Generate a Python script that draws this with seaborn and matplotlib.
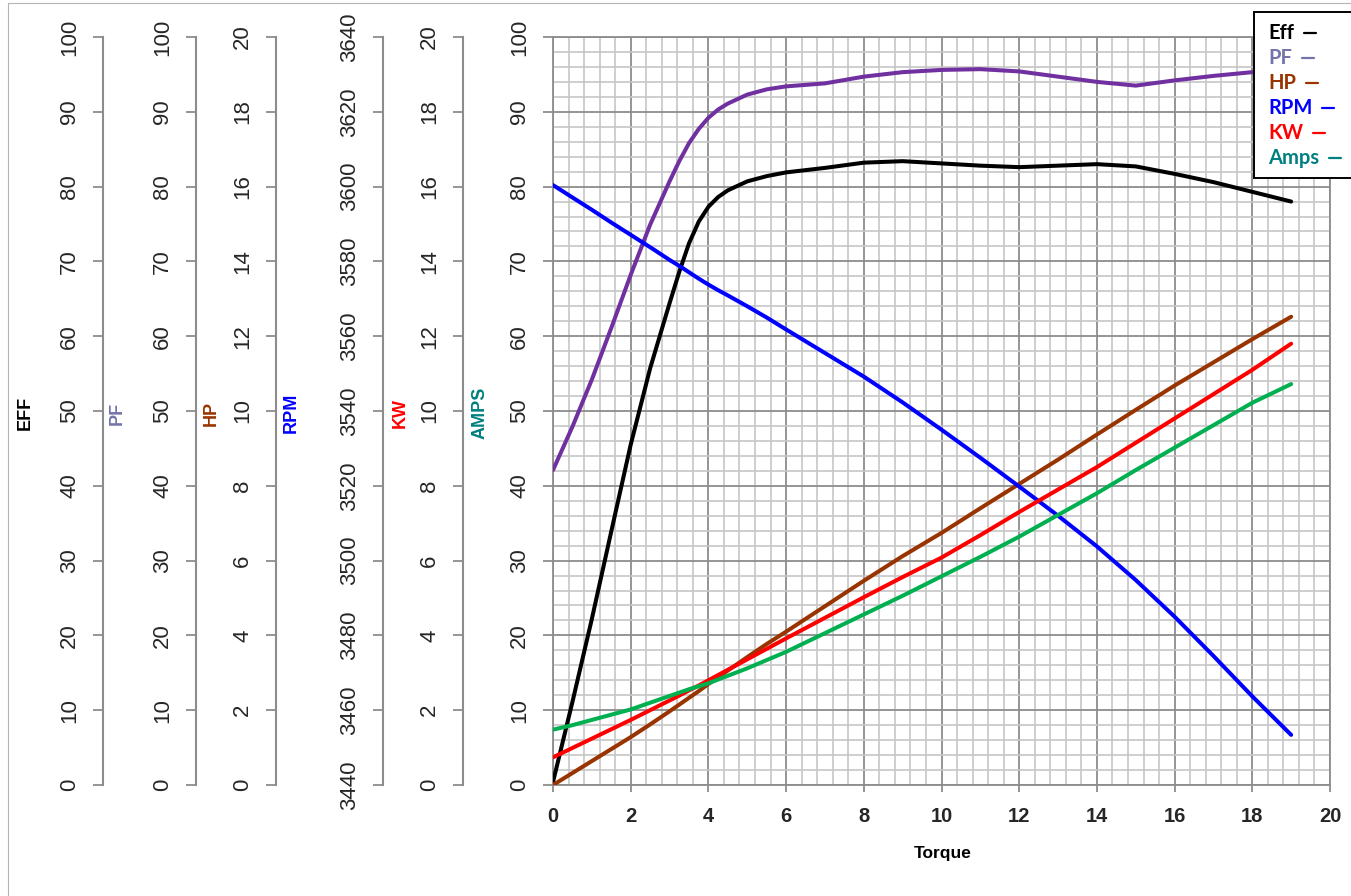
import matplotlib
matplotlib.use("Agg")
import matplotlib.pyplot as plt
import seaborn as sns
from matplotlib.lines import Line2D
from matplotlib.patches import Rectangle
from matplotlib.ticker import MultipleLocator

# ---------------- data ----------------
torque = [0, 0.5, 1, 1.5, 2, 2.5, 3, 3.25, 3.5, 3.75, 4, 4.25, 4.5, 5, 5.5, 6,
          7, 8, 9, 10, 11, 12, 13, 14, 15, 16, 17, 18, 19]
eff = [0.4, 11.1, 22.2, 33.9, 45.5, 55.7, 64.4, 68.6, 72.4, 75.3, 77.3, 78.6,
       79.5, 80.7, 81.4, 81.9, 82.5, 83.2, 83.4, 83.1, 82.8, 82.6, 82.8, 83.0,
       82.7, 81.7, 80.6, 79.3, 78.0]
pf = [42.1, 47.9, 54.2, 61.1, 68.2, 74.9, 80.7, 83.4, 85.8, 87.7, 89.2, 90.3,
      91.1, 92.3, 93.0, 93.4, 93.8, 94.7, 95.3, 95.6, 95.7, 95.4, 94.7, 94.0,
      93.5, 94.2, 94.8, 95.3, 95.9]
hp = [0.0, 0.32, 0.64, 0.96, 1.28, 1.62, 1.97, 2.15, 2.33, 2.51, 2.70, 2.88,
      3.06, 3.42, 3.77, 4.10, 4.78, 5.46, 6.12, 6.74, 7.40, 8.05, 8.70, 9.37,
      10.03, 10.68, 11.30, 11.92, 12.52]
rpm = [3600.4, 3597.1, 3593.8, 3590.4, 3587.1, 3583.8, 3580.4, 3578.8, 3577.1,
       3575.4, 3573.8, 3572.3, 3570.9, 3568.0, 3565.0, 3561.8, 3555.5, 3549.2,
       3542.3, 3535.0, 3527.5, 3519.8, 3512.0, 3503.8, 3494.8, 3485.0, 3474.5,
       3463.7, 3453.4]
kw = [0.74, 0.99, 1.24, 1.49, 1.74, 2.00, 2.26, 2.39, 2.53, 2.66, 2.80, 2.94,
      3.08, 3.36, 3.64, 3.92, 4.47, 5.02, 5.56, 6.08, 6.68, 7.30, 7.90, 8.50,
      9.15, 9.80, 10.45, 11.10, 11.80]
amps = [7.4, 8.0, 8.7, 9.4, 10.1, 11.0, 11.9, 12.35, 12.8, 13.2, 13.6, 14.1,
        14.6, 15.6, 16.7, 17.8, 20.3, 22.8, 25.3, 27.9, 30.5, 33.2, 36.1, 39.0,
        42.1, 45.1, 48.1, 51.1, 53.6]

x_ticks = [0, 2, 4, 6, 8, 10, 12, 14, 16, 18, 20]
pct_ticks = [0, 10, 20, 30, 40, 50, 60, 70, 80, 90, 100]
hp_ticks = [0, 2, 4, 6, 8, 10, 12, 14, 16, 18, 20]
rpm_ticks = [3440, 3460, 3480, 3500, 3520, 3540, 3560, 3580, 3600, 3620, 3640]

legend_labels = ["Eff", "PF", "HP", "RPM", "KW", "Amps"]
axis_titles = ["EFF", "PF", "HP", "RPM", "KW", "AMPS"]

# ---------------- style ----------------
sns.set_style("white")
plt.rcParams["font.family"] = ["Liberation Sans", "DejaVu Sans"]

W, H = 1351, 896
L, R, B, T = 553, 1330, 785, 37
fig = plt.figure(figsize=(W / 100, H / 100), dpi=100)
ax = fig.add_axes([L / W, 1 - B / H, (R - L) / W, (B - T) / H])

GRID_MAJ = "#8c8c8c"
GRID_MIN = "#c6c6c6"
TICKC = "#8c8c8c"
LW = 2.9

ax.set_xlim(0, 20)
ax.set_ylim(0, 100)
ax.xaxis.set_minor_locator(MultipleLocator(0.4))
ax.yaxis.set_minor_locator(MultipleLocator(2))
ax.set_xticks(x_ticks)
ax.set_xticklabels([str(v) for v in x_ticks], fontweight="bold", fontsize=14.5)
ax.set_yticks(pct_ticks)
ax.set_yticklabels([str(v) for v in pct_ticks], rotation=90, va="center", fontsize=16)
ax.set_axisbelow(True)
ax.grid(which="minor", color=GRID_MIN, lw=1.2)
ax.grid(which="major", color=GRID_MAJ, lw=1.3)
ax.tick_params(which="minor", length=0)
ax.tick_params(axis="x", which="major", direction="out", length=5, width=1.3,
               color=TICKC, pad=11, bottom=True)
ax.tick_params(axis="y", which="major", direction="out", length=7, width=1.3,
               color=TICKC, pad=9.5, left=True)
for s in ax.spines.values():
    s.set_color(GRID_MAJ)
    s.set_linewidth(1.3)
    s.set_visible(True)


def side_axis(spine_px, lo, hi, ticks):
    a = ax.twinx()
    a.set_ylim(lo, hi)
    a.yaxis.set_ticks_position("left")
    a.yaxis.set_label_position("left")
    a.spines["left"].set_position(("axes", (spine_px - L) / (R - L)))
    a.spines["left"].set_visible(True)
    a.spines["left"].set_color(TICKC)
    a.spines["left"].set_linewidth(1.5)
    for s in ["right", "top", "bottom"]:
        a.spines[s].set_visible(False)
    a.set_yticks(ticks)
    a.set_yticklabels([str(v) for v in ticks], rotation=90, va="center", fontsize=16)
    a.tick_params(axis="y", direction="out", length=7, width=1.3, color=TICKC,
                  pad=9.5, left=True, right=False)
    a.grid(False)
    return a


ax_eff = side_axis(103, 0, 100, pct_ticks)
ax_pf = side_axis(196, 0, 100, pct_ticks)
ax_hp = side_axis(276, 0, 20, hp_ticks)
ax_rpm = side_axis(383, 3440, 3640, rpm_ticks)
ax_kw = side_axis(463, 0, 20, hp_ticks)
ax_amp = ax.twinx()
ax_amp.set_ylim(0, 100)
ax_amp.set_yticks([])
for s in ax_amp.spines.values():
    s.set_visible(False)

line_colors = ["#000000", "#7030A0", "#993300", "#0000FF", "#FF0000", "#00B050"]
series = [eff, pf, hp, rpm, kw, amps]
axes_for = [ax_eff, ax_pf, ax_hp, ax_rpm, ax_kw, ax_amp]
for ys, a, c in zip(series, axes_for, line_colors):
    sns.lineplot(x=torque, y=ys, ax=a, color=c, lw=LW, legend=False,
                 solid_capstyle="round", solid_joinstyle="round")
    a.set_ylabel("")
    a.set_xlabel("")
ax.set_xlabel("")

# ---------------- axis titles ----------------
title_colors = ["#000000", "#7474AA", "#993300", "#0000FF", "#FF0000", "#008080"]
title_x = [25, 117, 211, 291, 400, 480]
for t, xp, c in zip(axis_titles, title_x, title_colors):
    fig.text(xp / W, 1 - 413 / H, t, rotation=90, ha="center", va="center",
             fontsize=13, fontweight="bold", color=c)
fig.text(943 / W, 1 - 853 / H, "Torque", ha="center", va="center",
         fontsize=12.5, fontweight="bold", color="black")

# ---------------- legend (text followed by a short line) ----------------
box = Rectangle((1254 / W, 1 - 178 / H), 120 / W, 166 / H, transform=fig.transFigure,
                facecolor="white", edgecolor="black", lw=1.4, zorder=10)
fig.add_artist(box)
row_y = [33, 58, 83, 108, 133, 158]
texts = []
for lab, c, yp in zip(legend_labels, title_colors, row_y):
    t = fig.text(1268 / W, 1 - yp / H, lab, ha="left", va="center", color=c,
                 fontsize=14.5, fontweight="bold", family=["Lato", "DejaVu Sans"],
                 zorder=11)
    texts.append(t)
fig.canvas.draw()
rend = fig.canvas.get_renderer()
for t, c, yp in zip(texts, title_colors, row_y):
    bb = t.get_window_extent(renderer=rend)
    x0 = bb.x1 + 10
    fig.add_artist(Line2D([x0 / W, (x0 + 12) / W], [1 - yp / H, 1 - yp / H],
                          transform=fig.transFigure, color=c, lw=1.6, zorder=11))

# chart area border (Excel style)
fig.add_artist(Line2D([8 / W, 8 / W], [0, 1 - 3 / H], transform=fig.transFigure,
                      color="#b4b4b4", lw=0.8))
fig.add_artist(Line2D([8 / W, 1], [1 - 3 / H, 1 - 3 / H], transform=fig.transFigure,
                      color="#b4b4b4", lw=0.8))

fig.savefig("out.png", dpi=100)
